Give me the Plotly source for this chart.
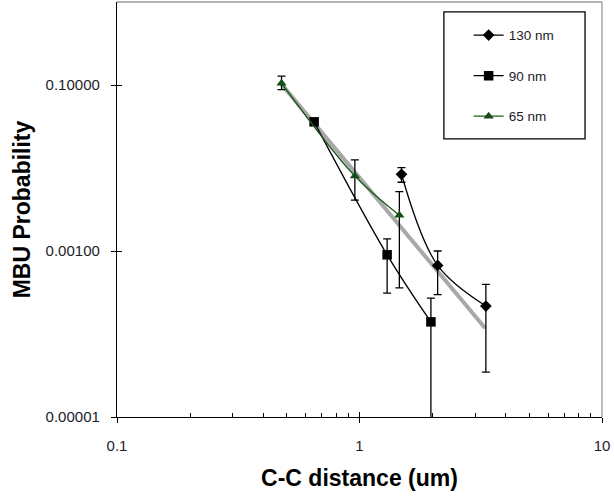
import numpy as np
import plotly.graph_objects as go

# --- data -------------------------------------------------------------
x_130 = [1.49, 2.10, 3.32]
y_130 = [0.0084, 0.00067, 0.000217]
hi_130 = [0.0101, 0.0010, 0.000397]
lo_130 = [0.00673, 0.000298, 0.0000348]

x_90 = [0.65, 1.30, 1.97]
y_90 = [0.036, 0.00090, 0.00014]
hi_90 = [0.036, 0.0014, 0.00027]
lo_90 = [0.036, 0.00031, 0.000001]

x_65 = [0.477, 0.957, 1.46]
y_65 = [0.105, 0.0080, 0.0027]
hi_65 = [0.128, 0.0125, 0.0052]
lo_65 = [0.088, 0.0041, 0.00036]

# power-law trend  y = a * x^b
trend_a = 0.00766
trend_b = -3.5
trend_xmin, trend_xmax = 0.47, 3.3

y_tickvals = [1e-5, 1e-3, 1e-1]
y_ticktext = ["0.00001", "0.00100", "0.10000"]
x_tickvals = [0.1, 1, 10]
x_ticktext = ["0.1", "1", "10"]

FONT = "Liberation Sans, Arial, sans-serif"
TXT = "#1c1c28"


def err(y, hi, lo):
    return dict(type="data", symmetric=False,
                array=[h - v for h, v in zip(hi, y)],
                arrayminus=[v - l for l, v in zip(lo, y)],
                color="black", thickness=1.3, width=4)


fig = go.Figure()

tx = np.array([trend_xmin, trend_xmax])
fig.add_trace(go.Scatter(x=tx, y=trend_a * tx ** trend_b, mode="lines",
                         line=dict(color="#a8a8a8", width=4),
                         showlegend=False, hoverinfo="skip"))

fig.add_trace(go.Scatter(x=x_130, y=y_130, name="130 nm", mode="lines+markers",
                         line=dict(color="black", width=1.3, shape="spline"),
                         marker=dict(symbol="diamond", size=9, color="black"),
                         error_y=err(y_130, hi_130, lo_130), legendgroup="a"))
fig.add_trace(go.Scatter(x=x_90, y=y_90, name="90 nm", mode="lines+markers",
                         line=dict(color="black", width=1.3, shape="spline"),
                         marker=dict(symbol="square", size=9.5, color="black"),
                         error_y=err(y_90, hi_90, lo_90), legendgroup="b"))
fig.add_trace(go.Scatter(x=x_65, y=y_65, name="65 nm", mode="lines+markers",
                         line=dict(color="#1e5a1e", width=1.3, shape="spline"),
                         marker=dict(symbol="triangle-up", size=9, color="#154d15"),
                         error_y=err(y_65, hi_65, lo_65), legendgroup="c"))

axis_common = dict(showgrid=False, zeroline=False, showline=True,
                   linecolor="black", linewidth=1.3, tickcolor="black",
                   tickwidth=1.3)

fig.update_layout(
    width=614, height=500,
    margin=dict(l=117, r=12, t=2, b=83),
    paper_bgcolor="white", plot_bgcolor="white",
    font=dict(family=FONT, color=TXT, size=15),
    xaxis=dict(type="log", range=[-1, 1], tickvals=x_tickvals, ticktext=x_ticktext,
               ticks="outside", ticklen=5, ticklabelstandoff=10,
               minor=dict(tickvals=[m * 10 ** d for d in (-1, 0) for m in range(2, 10)],
                          ticks="inside", ticklen=4, tickcolor="black", tickwidth=1.3),
               title=dict(text="<b>C-C distance (um)</b>", font=dict(size=23, color="black"),
                          standoff=16),
               tickfont=dict(size=15, color=TXT), **axis_common),
    xaxis2=dict(type="log", range=[-1, 1], overlaying="x", anchor="y",
                tickvals=x_tickvals, showticklabels=False, ticks="inside", ticklen=5,
                showgrid=False, zeroline=False, showline=False, tickcolor="black",
                tickwidth=1.3),
    yaxis=dict(type="log", range=[-5, 0], tickvals=y_tickvals, ticktext=y_ticktext,
               ticks="outside", ticklen=5, ticklabelstandoff=8,
               title=dict(text="<b>MBU Probability</b>", font=dict(size=23, color="black"),
                          standoff=8),
               tickfont=dict(size=15, color=TXT), **axis_common),
    yaxis2=dict(type="log", range=[-5, 0], overlaying="y", anchor="x",
                tickvals=y_tickvals, showticklabels=False, ticks="inside", ticklen=5,
                showgrid=False, zeroline=False, showline=False, tickcolor="black",
                tickwidth=1.3),
    legend=dict(x=0.725, y=0.957, xanchor="left", yanchor="top",
                bgcolor="rgba(0,0,0,0)", borderwidth=0, tracegroupgap=20,
                font=dict(size=13.5, color=TXT), itemwidth=30),
    shapes=[
        # plot-area frame (top and right)
        dict(type="line", xref="paper", yref="paper", x0=0, x1=1, y0=1, y1=1,
             line=dict(color="#9a9a9a", width=1.3)),
        dict(type="line", xref="paper", yref="paper", x0=1, x1=1, y0=0, y1=1,
             line=dict(color="#9a9a9a", width=1.3)),
        # legend box
        dict(type="rect", xref="paper", yref="paper", x0=0.674, x1=0.965,
             y0=0.670, y1=0.976, line=dict(color="black", width=1.3)),
    ],
)

# hidden anchor trace so the overlay axes draw their ticks
fig.add_trace(go.Scatter(x=[1], y=[1e-3], xaxis="x2", yaxis="y2", mode="markers",
                         marker=dict(opacity=0), showlegend=False, hoverinfo="skip"))

fig.write_html("out.html")
